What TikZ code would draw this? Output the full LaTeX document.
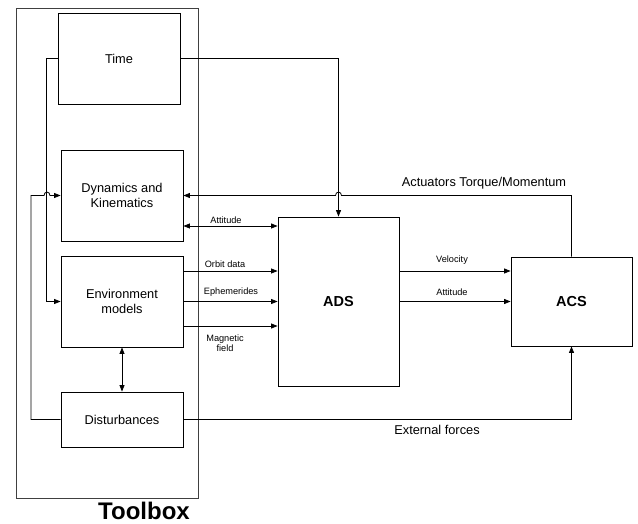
\documentclass[tikz,border=0pt]{standalone}
\usepackage{fontspec}
\setmainfont{Liberation Sans}
\usetikzlibrary{arrows.meta}
\begin{document}
\begin{tikzpicture}[x=1pt,y=-1pt,
  box/.style={draw,line width=0.8pt,inner sep=0pt,align=center,font=\fontsize{12.8}{14.5}\selectfont},
  wire/.style={line width=0.8pt},
  arr/.style={wire,-{Triangle[length=6.5pt,width=5pt]}},
  darr/.style={wire,{Triangle[length=6.5pt,width=5pt]}-{Triangle[length=6.5pt,width=5pt]}},
  small/.style={font=\fontsize{9.2}{10}\selectfont,inner sep=0pt,align=center},
  mid/.style={font=\fontsize{12.8}{14.5}\selectfont,inner sep=0pt}]
\useasboundingbox (0,0) rectangle (638,524);
\node[box,draw=black!75,minimum width=182pt,minimum height=490pt] (tool) at (107,253) {};
\node[font=\bfseries\fontsize{24}{26}\selectfont,inner sep=0pt] (toollab) at (144,511) {Toolbox};
\node[box,minimum width=122pt,minimum height=91pt] (time) at (119,58.5) {Time};
\node[box,minimum width=122pt,minimum height=91pt] (dyn) at (122,195.5) {Dynamics and\\Kinematics};
\node[box,minimum width=122pt,minimum height=91pt] (env) at (122,301.5) {Environment\\models};
\node[box,minimum width=122pt,minimum height=55pt] (dist) at (122,419.5) {Disturbances};
\node[box,minimum width=121pt,minimum height=169pt,font=\bfseries\fontsize{14.5}{16}\selectfont] (ads) at (338.5,301.5) {ADS};
\node[box,minimum width=121pt,minimum height=89pt,font=\bfseries\fontsize{14.5}{16}\selectfont] (acs) at (571.5,301.5) {ACS};
\coordinate (yatt) at (0,226);
\coordinate (yorb) at (0,271);
\coordinate (ymag) at (0,326);
% Time -> Environment
\draw[arr] (time.west) -- ++(-11,0) |- (env.west);
% Disturbances -> Dynamics with hop
\draw[arr] (dist.west) -- (31,419.5) -- (31,195.5) -- (44,195.5) .. controls (44,191) and (50,191) .. (50,195.5) -- (dyn.west);
% Time -> ADS
\draw[arr] (time.east) -| (ads.north);
% Actuators ACS -> Dynamics with hop
\draw[arr] (acs.north) |- (341.5,195.5) .. controls (341.5,191) and (335.5,191) .. (335.5,195.5) -- (dyn.east);
\node[mid] (actlab) at (484,183) {Actuators Torque/Momentum};
% Attitude dyn <-> ads
\draw[darr] (dyn.east |- yatt) -- (ads.west |- yatt);
\node[small] (attlab1) at (226,220) {Attitude};
% env -> ads
\draw[arr] (env.east |- yorb) -- (ads.west |- yorb);
\node[small] (orblab) at (225,264) {Orbit data};
\draw[arr] (env.east) -- (ads.west);
\node[small] (ephlab) at (231,292.5) {Ephemerides};
\draw[arr] (env.east |- ymag) -- (ads.west |- ymag);
\node[small] (maglab) at (225,343) {Magnetic\\field};
% env <-> dist
\draw[darr] (env.south) -- (dist.north);
% dist -> acs
\draw[arr] (dist.east) -| (acs.south);
\node[mid] (extlab) at (437,429.5) {External forces};
% ads -> acs
\draw[arr] (ads.east |- yorb) -- (acs.west |- yorb);
\node[small] (vellab) at (452,260) {Velocity};
\draw[arr] (ads.east) -- (acs.west);
\node[small] (attlab2) at (452,292.5) {Attitude};
\end{tikzpicture}
\end{document}
